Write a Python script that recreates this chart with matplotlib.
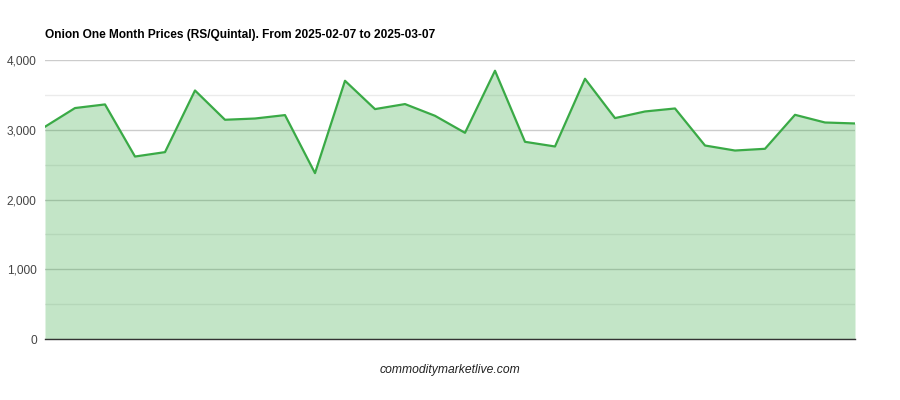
#!/usr/bin/env python3

import matplotlib
matplotlib.use('Agg')
import matplotlib.pyplot as plt
from matplotlib.ticker import FuncFormatter, MultipleLocator

plt.rcParams['font.family'] = ['Liberation Sans', 'DejaVu Sans']

title = 'Onion One Month Prices (RS/Quintal). From 2025-02-07 to 2025-03-07'
footer = 'commoditymarketlive.com'

# one value per trading day
prices = [3043, 3311, 3363, 2616, 2679, 3563, 3143, 3161, 3210, 2378,
          3702, 3296, 3368, 3200, 2956, 3846, 2827, 2760, 3731, 3167,
          3262, 3305, 2774, 2702, 2727, 3214, 3104, 3090]
days = list(range(len(prices)))

y_ticks = [0, 1000, 2000, 3000, 4000]

line_color = '#3aaa46'

fig = plt.figure(figsize=(9, 4), dpi=100)
ax = fig.add_axes([0.05, 0.1525, 0.90, 0.6975])

# translucent fill so the gridlines show through as darker green
ax.fill_between(days, prices, 0, color=line_color, alpha=0.3, linewidth=0, zorder=2)
ax.plot(days, prices, color=line_color, linewidth=1.6, zorder=3)

ax.set_xlim(days[0], days[-1])
ax.set_ylim(0, 4000)
ax.set_yticks(y_ticks)
ax.yaxis.set_minor_locator(MultipleLocator(500))
ax.yaxis.set_major_formatter(FuncFormatter(lambda v, p: f'{int(v):,}'))
ax.set_xticks([])

ax.grid(True, which='major', axis='y', color='#cccccc', linewidth=1, zorder=1)
ax.grid(True, which='minor', axis='y', color='#ebebeb', linewidth=1, zorder=1)
ax.set_axisbelow(True)

for s in ['top', 'right', 'left']:
    ax.spines[s].set_visible(False)
ax.spines['bottom'].set_color('#333333')
ax.spines['bottom'].set_linewidth(1)
ax.spines['bottom'].set_zorder(4)

ax.tick_params(axis='y', which='both', length=0, pad=6, labelsize=8.6, labelcolor='#444444')

fig.text(0.05, 0.9125, title, fontsize=8.6, fontweight='bold', color='#000000',
         ha='left', va='center')
fig.text(0.5, 0.075, footer, fontsize=8.7, style='italic', color='#222222',
         ha='center', va='center')

fig.savefig('out.png', dpi=100)
plt.close(fig)
